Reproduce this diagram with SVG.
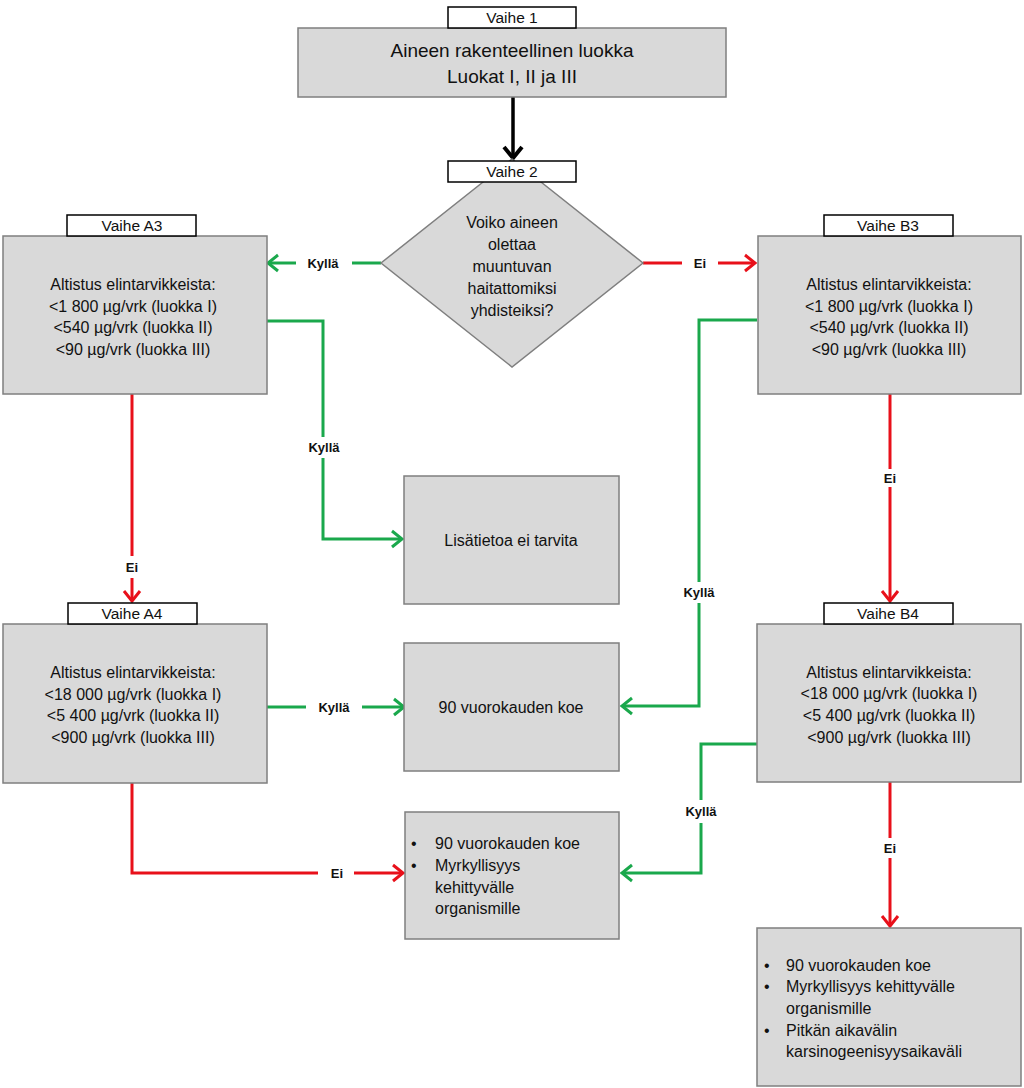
<svg xmlns="http://www.w3.org/2000/svg" width="1024" height="1088" viewBox="0 0 1024 1088">
<defs>
<style>
.box{fill:#d9d9d9;stroke:#7f7f7f;stroke-width:1.5}
.lab{fill:#ffffff;stroke:#000000;stroke-width:1.5}
.t{font-family:"Liberation Sans",Arial,sans-serif;font-size:16px;fill:#111111;text-anchor:middle}
.tl{font-family:"Liberation Sans",Arial,sans-serif;font-size:16px;fill:#111111}
.tv{font-family:"Liberation Sans",Arial,sans-serif;font-size:15.5px;fill:#111111;text-anchor:middle}
.big{font-family:"Liberation Sans",Arial,sans-serif;font-size:19px;fill:#111111;text-anchor:middle}
.k{font-family:"Liberation Sans",Arial,sans-serif;font-size:13px;font-weight:bold;fill:#111111;text-anchor:middle}
.g{stroke:#1aa84c;stroke-width:3;fill:none}
.r{stroke:#e8101a;stroke-width:3;fill:none}
.b{stroke:#000000;stroke-width:3.5;fill:none}
</style>
<marker id="ag" markerUnits="userSpaceOnUse" markerWidth="20" markerHeight="20" refX="13" refY="10" orient="auto">
<path d="M3,2 L13,10 L3,18" fill="none" stroke="#1aa84c" stroke-width="3"/>
</marker>
<marker id="ar" markerUnits="userSpaceOnUse" markerWidth="20" markerHeight="20" refX="13" refY="10" orient="auto">
<path d="M3,2 L13,10 L3,18" fill="none" stroke="#e8101a" stroke-width="3"/>
</marker>
<marker id="ab" markerUnits="userSpaceOnUse" markerWidth="22" markerHeight="22" refX="14" refY="11" orient="auto">
<path d="M3,2 L14,11 L3,20" fill="none" stroke="#000000" stroke-width="4"/>
</marker>
</defs>
<rect width="1024" height="1088" fill="#ffffff"/>

<g id="connectors">
<line class="b" x1="513" y1="97" x2="513" y2="158" marker-end="url(#ab)"/>
<line class="g" x1="381" y1="263" x2="352" y2="263"/>
<line class="g" x1="296" y1="263" x2="268" y2="263" marker-end="url(#ag)"/>
<line class="r" x1="643" y1="263" x2="682" y2="263"/>
<line class="r" x1="718" y1="263" x2="755" y2="263" marker-end="url(#ar)"/>
<polyline class="g" points="267,321 323,321 323,437"/>
<polyline class="g" points="323,458 323,539 402,539" marker-end="url(#ag)"/>
<line class="r" x1="132" y1="394" x2="132" y2="556"/>
<line class="r" x1="132" y1="578" x2="132" y2="601" marker-end="url(#ar)"/>
<line class="r" x1="890" y1="394" x2="890" y2="469"/>
<line class="r" x1="890" y1="487" x2="890" y2="601" marker-end="url(#ar)"/>
<polyline class="g" points="757,320 699,320 699,582"/>
<polyline class="g" points="699,603 699,706 622,706" marker-end="url(#ag)"/>
<line class="g" x1="267" y1="707" x2="306" y2="707"/>
<line class="g" x1="362" y1="707" x2="404" y2="707" marker-end="url(#ag)"/>
<polyline class="r" points="132,783 132,873 318,873"/>
<line class="r" x1="354" y1="873" x2="403" y2="873" marker-end="url(#ar)"/>
<polyline class="g" points="757,744 701,744 701,800"/>
<polyline class="g" points="701,823 701,873 622,873" marker-end="url(#ag)"/>
<line class="r" x1="890" y1="782" x2="890" y2="838"/>
<line class="r" x1="890" y1="858" x2="890" y2="926" marker-end="url(#ar)"/>
<text class="k" x="323" y="268">Kyllä</text>
<text class="k" x="700" y="268">Ei</text>
<text class="k" x="324" y="452">Kyllä</text>
<text class="k" x="132" y="572">Ei</text>
<text class="k" x="890" y="483">Ei</text>
<text class="k" x="699" y="597">Kyllä</text>
<text class="k" x="334" y="712">Kyllä</text>
<text class="k" x="337" y="878">Ei</text>
<text class="k" x="701" y="816">Kyllä</text>
<text class="k" x="890" y="853">Ei</text>
</g>

<g id="vaihe1">
<rect class="box" x="298" y="28" width="428" height="69"/>
<rect class="lab" x="448" y="7" width="128" height="21"/>
<text class="tv" x="512" y="23">Vaihe 1</text>
<text class="big" x="512" y="57">Aineen rakenteellinen luokka</text>
<text class="big" x="512" y="83">Luokat I, II ja III</text>
</g>

<g id="vaihe2">
<polygon points="512,159 643,263 512,367 381,263" fill="#d9d9d9" stroke="#7f7f7f" stroke-width="1.5"/>
<rect class="lab" x="448" y="161" width="128" height="21"/>
<text class="tv" x="512" y="177">Vaihe 2</text>
<text class="t" x="512" y="228">Voiko aineen</text>
<text class="t" x="512" y="250">olettaa</text>
<text class="t" x="512" y="272">muuntuvan</text>
<text class="t" x="512" y="294">haitattomiksi</text>
<text class="t" x="512" y="316">yhdisteiksi?</text>
</g>

<g id="vaiheA3">
<rect class="box" x="3" y="236" width="264" height="158"/>
<rect class="lab" x="67" y="215" width="129" height="21"/>
<text class="tv" x="132" y="231">Vaihe A3</text>
<text class="t" x="133" y="290">Altistus elintarvikkeista:</text>
<text class="t" x="133" y="312">&lt;1 800 µg/vrk (luokka I)</text>
<text class="t" x="133" y="333">&lt;540 µg/vrk (luokka II)</text>
<text class="t" x="133" y="355">&lt;90 µg/vrk (luokka III)</text>
</g>

<g id="vaiheB3">
<rect class="box" x="758" y="236" width="263" height="158"/>
<rect class="lab" x="824" y="215" width="129" height="21"/>
<text class="tv" x="888" y="231">Vaihe B3</text>
<text class="t" x="889" y="290">Altistus elintarvikkeista:</text>
<text class="t" x="889" y="312">&lt;1 800 µg/vrk (luokka I)</text>
<text class="t" x="889" y="333">&lt;540 µg/vrk (luokka II)</text>
<text class="t" x="889" y="355">&lt;90 µg/vrk (luokka III)</text>
</g>

<g id="lisatietoa">
<rect class="box" x="404" y="476" width="215" height="128"/>
<text class="t" x="511" y="546">Lisätietoa ei tarvita</text>
</g>

<g id="vaiheA4">
<rect class="box" x="3" y="624" width="264" height="159"/>
<rect class="lab" x="68" y="603" width="129" height="21"/>
<text class="tv" x="132" y="619">Vaihe A4</text>
<text class="t" x="133" y="678">Altistus elintarvikkeista:</text>
<text class="t" x="133" y="700">&lt;18 000 µg/vrk (luokka I)</text>
<text class="t" x="133" y="721">&lt;5 400 µg/vrk (luokka II)</text>
<text class="t" x="133" y="743">&lt;900 µg/vrk (luokka III)</text>
</g>

<g id="koe90">
<rect class="box" x="404" y="643" width="215" height="128"/>
<text class="t" x="511" y="713">90 vuorokauden koe</text>
</g>

<g id="vaiheB4">
<rect class="box" x="757" y="624" width="264" height="158"/>
<rect class="lab" x="824" y="603" width="129" height="21"/>
<text class="tv" x="888" y="619">Vaihe B4</text>
<text class="t" x="889" y="678">Altistus elintarvikkeista:</text>
<text class="t" x="889" y="699">&lt;18 000 µg/vrk (luokka I)</text>
<text class="t" x="889" y="721">&lt;5 400 µg/vrk (luokka II)</text>
<text class="t" x="889" y="743">&lt;900 µg/vrk (luokka III)</text>
</g>

<g id="koeMyrkyllisyys">
<rect class="box" x="405" y="812" width="214" height="127"/>
<text class="tl" x="411" y="849">•</text>
<text class="tl" x="435" y="849">90 vuorokauden koe</text>
<text class="tl" x="411" y="871">•</text>
<text class="tl" x="435" y="871">Myrkyllisyys</text>
<text class="tl" x="435" y="893">kehittyvälle</text>
<text class="tl" x="435" y="914">organismille</text>
</g>

<g id="koeKarsinogeenisuus">
<rect class="box" x="757" y="928" width="264" height="158"/>
<text class="tl" x="764" y="971">•</text>
<text class="tl" x="786" y="971">90 vuorokauden koe</text>
<text class="tl" x="764" y="992">•</text>
<text class="tl" x="786" y="992">Myrkyllisyys kehittyvälle</text>
<text class="tl" x="786" y="1014">organismille</text>
<text class="tl" x="764" y="1036">•</text>
<text class="tl" x="786" y="1036">Pitkän aikavälin</text>
<text class="tl" x="786" y="1057">karsinogeenisyysaikaväli</text>
</g>
</svg>
